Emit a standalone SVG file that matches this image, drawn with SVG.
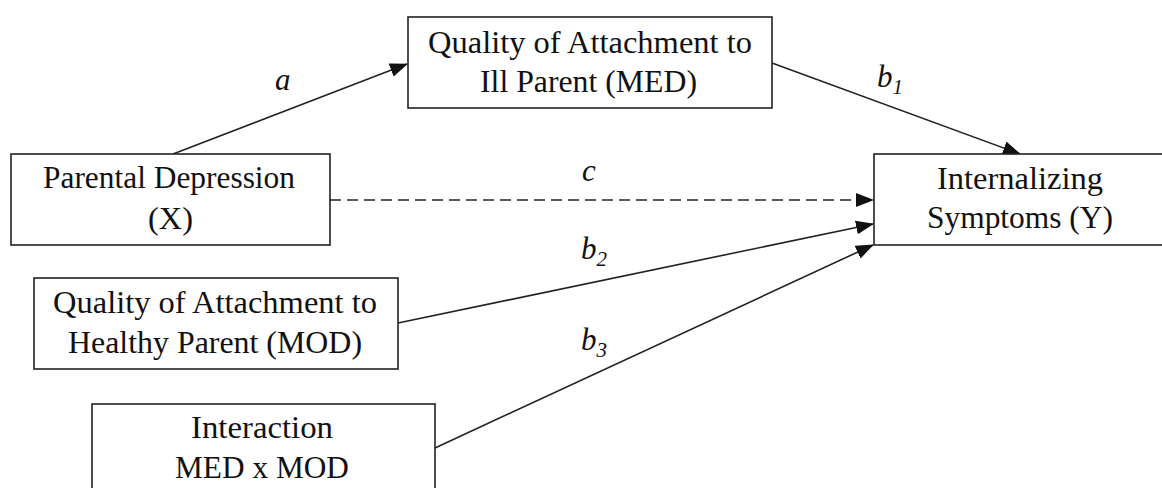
<svg xmlns="http://www.w3.org/2000/svg" width="1162" height="488" viewBox="0 0 1162 488">
<style>
.box{fill:#fff;stroke:#222;stroke-width:1.6}
.t{font-family:"Liberation Serif","Times New Roman",serif;font-size:31px;fill:#111;text-anchor:middle}
.lbl{font-family:"Liberation Serif","Times New Roman",serif;font-size:31px;font-style:italic;fill:#111}
.sub{font-size:21px}
.ln{stroke:#222;stroke-width:1.6;fill:none}
</style>
<defs>
<marker id="ah" markerUnits="userSpaceOnUse" markerWidth="18" markerHeight="14" viewBox="0 0 18 14" refX="17" refY="7" orient="auto">
<path d="M0,0 L18,7 L0,14 Z" fill="#111"/>
</marker>
</defs>
<rect width="1162" height="488" fill="#fff"/>
<g id="connectors">
<line class="ln" x1="173" y1="154" x2="407" y2="64" marker-end="url(#ah)"/>
<line class="ln" x1="772" y1="63" x2="1020" y2="154" marker-end="url(#ah)"/>
<line class="ln" x1="330" y1="200" x2="873" y2="200" stroke-dasharray="11,6" marker-end="url(#ah)"/>
<line class="ln" x1="398" y1="323" x2="873" y2="224" marker-end="url(#ah)"/>
<line class="ln" x1="435" y1="448" x2="873" y2="245" marker-end="url(#ah)"/>
<text class="lbl" x="275" y="90">a</text>
<text class="lbl" x="877" y="87">b<tspan class="sub" dy="7">1</tspan></text>
<text class="lbl" x="582" y="181">c</text>
<text class="lbl" x="581" y="259">b<tspan class="sub" dy="7">2</tspan></text>
<text class="lbl" x="581" y="350">b<tspan class="sub" dy="7">3</tspan></text>
</g>
<g id="node-x">
<rect class="box" x="11" y="154" width="319" height="91"/>
<text class="t" x="169" y="188" textLength="252" lengthAdjust="spacingAndGlyphs">Parental Depression</text>
<text class="t" x="170.5" y="229" textLength="45" lengthAdjust="spacingAndGlyphs">(X)</text>
</g>
<g id="node-med">
<rect class="box" x="408" y="17" width="364" height="91"/>
<text class="t" x="590" y="53" textLength="324" lengthAdjust="spacingAndGlyphs">Quality of Attachment to</text>
<text class="t" x="588.5" y="92" textLength="217" lengthAdjust="spacingAndGlyphs">Ill Parent (MED)</text>
</g>
<g id="node-y">
<rect class="box" x="874" y="154" width="294" height="91"/>
<text class="t" x="1020" y="189" textLength="166" lengthAdjust="spacingAndGlyphs">Internalizing</text>
<text class="t" x="1020" y="228" textLength="186" lengthAdjust="spacingAndGlyphs">Symptoms (Y)</text>
</g>
<g id="node-mod">
<rect class="box" x="34" y="278" width="364" height="91"/>
<text class="t" x="215" y="313" textLength="324" lengthAdjust="spacingAndGlyphs">Quality of Attachment to</text>
<text class="t" x="215" y="353" textLength="294" lengthAdjust="spacingAndGlyphs">Healthy Parent (MOD)</text>
</g>
<g id="node-int">
<rect class="box" x="92" y="404" width="343" height="100"/>
<text class="t" x="262" y="438" textLength="142" lengthAdjust="spacingAndGlyphs">Interaction</text>
<text class="t" x="262" y="478" textLength="174" lengthAdjust="spacingAndGlyphs">MED x MOD</text>
</g>
</svg>
